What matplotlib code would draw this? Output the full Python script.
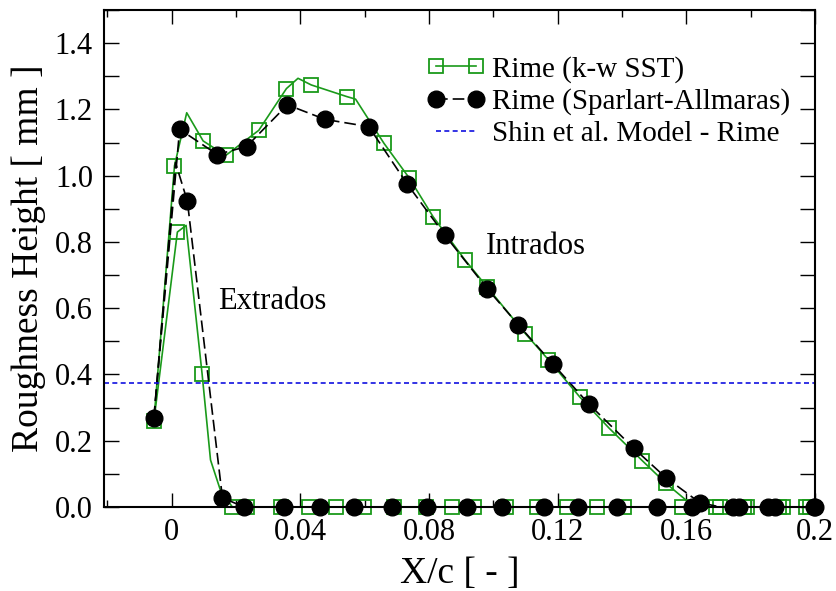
import matplotlib.pyplot as plt
from matplotlib.ticker import MultipleLocator, FormatStrFormatter

# Rime roughness height along the airfoil (k-w SST), extrados branch
sst_ext_x = [-0.0055, 0.0018, 0.0045, 0.0095, 0.0121, 0.0152, 0.0189, 0.0235,
             0.0339, 0.0427, 0.0510, 0.0598, 0.0691, 0.0790, 0.0873, 0.0940,
             0.1038, 0.1137, 0.1230, 0.1323, 0.1406, 0.1587, 0.1691, 0.1779,
             0.1888, 0.1971]
sst_ext_y = [0.26, 0.83, 0.85, 0.40, 0.142, 0.05, 0.0, 0.0,
             0.0, 0.0, 0.0, 0.0, 0.0, 0.0, 0.0, 0.0,
             0.0, 0.0, 0.0, 0.0, 0.0, 0.0, 0.0, 0.0,
             0.0, 0.0]
sst_ext_mark = [True, True, False, True, False, False] + [True] * 20

# k-w SST, intrados branch
sst_int_x = [-0.0055, 0.0009, 0.0047, 0.0098, 0.0168, 0.0271, 0.0357, 0.0393,
             0.0434, 0.0544, 0.0572, 0.0660, 0.0738, 0.0813, 0.0911, 0.0980,
             0.1100, 0.1171, 0.1269, 0.1360, 0.1463, 0.1536, 0.1625, 0.1705,
             0.1790, 0.1900, 0.1985]
sst_int_y = [0.26, 1.03, 1.19, 1.105, 1.061, 1.137, 1.263, 1.294,
             1.274, 1.239, 1.231, 1.098, 0.994, 0.876, 0.747, 0.665,
             0.523, 0.445, 0.332, 0.238, 0.140, 0.072, 0.0, 0.0,
             0.0, 0.0, 0.0]
sst_int_mark = [False, True, False, True, True, True, True, False,
                True, True, False, True, True, True, True, True,
                True, True, True, True, True, True, False, True,
                True, True, True]

# Spalart-Allmaras, extrados branch
sa_ext_x = [-0.0055, 0.0012, 0.0049, 0.0158, 0.0225, 0.0350, 0.0460, 0.0567,
            0.0686, 0.0793, 0.0917, 0.1028, 0.1157, 0.1263, 0.1383, 0.1508,
            0.1618, 0.1745, 0.1855, 0.1997]
sa_ext_y = [0.27, 1.04, 0.923, 0.028, 0.0, 0.0, 0.0, 0.0,
            0.0, 0.0, 0.0, 0.0, 0.0, 0.0, 0.0, 0.0,
            0.0, 0.0, 0.0, 0.0]
sa_ext_mark = [True, False] + [True] * 18

# Spalart-Allmaras, intrados branch
sa_int_x = [-0.0055, 0.0025, 0.0142, 0.0233, 0.0360, 0.0477, 0.0613, 0.0733,
            0.0850, 0.0981, 0.1078, 0.1185, 0.1297, 0.1437, 0.1536, 0.1642,
            0.1707, 0.1765, 0.1875, 0.2000]
sa_int_y = [0.27, 1.14, 1.064, 1.088, 1.214, 1.170, 1.148, 0.974,
            0.820, 0.659, 0.550, 0.432, 0.311, 0.177, 0.089, 0.013,
            0.0, 0.0, 0.0, 0.0]
sa_int_mark = [False] + [True] * 15 + [False, True, True, True]

# Shin et al. rime roughness (constant)
shin_rime = 0.373

plt.rcParams['font.family'] = ['Liberation Serif', 'DejaVu Serif']

fig = plt.figure(figsize=(8.37, 5.91), dpi=100)
ax = fig.add_axes([0.1243, 0.1421, 0.8494, 0.8409])

green = '#1a9a1a'
sq = dict(color=green, lw=1.2, marker='s', ms=10, mfc='none', mec=green, mew=1.3,
          clip_on=False)
dot = dict(color='black', lw=1.2, ls=(0, (7, 3)), marker='o', ms=12, mfc='black',
           mec='black', clip_on=False)

ax.plot(sst_ext_x, sst_ext_y, markevery=sst_ext_mark, **sq)
ax.plot(sst_int_x, sst_int_y, markevery=sst_int_mark, label='Rime (k-w SST)', **sq)
ax.plot(sa_ext_x, sa_ext_y, markevery=sa_ext_mark, **dot)
ax.plot(sa_int_x, sa_int_y, markevery=sa_int_mark, label='Rime (Sparlart-Allmaras)', **dot)
ax.axhline(shin_rime, color='#1010e0', lw=1.2, ls=(0, (3, 2)),
           label='Shin et al. Model - Rime')

ax.text(0.0143, 0.62, 'Extrados', fontsize=22, va='center', ha='left')
ax.text(0.0976, 0.786, 'Intrados', fontsize=22, va='center', ha='left')

ax.set_xlim(-0.021, 0.2)
ax.set_ylim(0, 1.5)
ax.xaxis.set_major_locator(MultipleLocator(0.04))
ax.xaxis.set_minor_locator(MultipleLocator(0.02))
ax.yaxis.set_major_locator(MultipleLocator(0.2))
ax.yaxis.set_minor_locator(MultipleLocator(0.1))
ax.xaxis.set_major_formatter(FormatStrFormatter('%g'))
ax.yaxis.set_major_formatter(FormatStrFormatter('%.1f'))
ax.set_yticks([0, 0.2, 0.4, 0.6, 0.8, 1.0, 1.2, 1.4])

ax.tick_params(which='both', direction='in', top=True, right=True, width=1.0, labelsize=22)
ax.tick_params(axis='x', which='major', length=10, pad=8)
ax.tick_params(axis='x', which='minor', length=5)
ax.tick_params(axis='y', which='both', length=11, pad=8)
for s in ax.spines.values():
    s.set_linewidth(1.5)

ax.set_xlabel('X/c [ - ]', fontsize=27, labelpad=7)
ax.set_ylabel('Roughness Height [ mm ]', fontsize=27, labelpad=6)

ax.legend(loc='upper left', bbox_to_anchor=(0.454, 0.908), frameon=False,
          fontsize=21, numpoints=2, handlelength=2.0, handletextpad=0.25,
          labelspacing=0.19, borderpad=0, borderaxespad=0)

fig.savefig('out.png', dpi=100)
